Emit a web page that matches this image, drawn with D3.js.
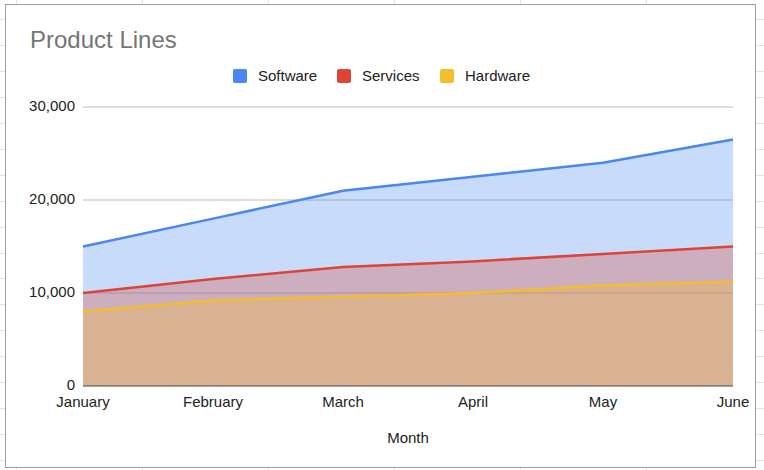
<!DOCTYPE html>
<html>
<head>
<meta charset="utf-8">
<script src="https://cdn.jsdelivr.net/npm/d3@7"></script>
<style>
  html, body { margin: 0; padding: 0; background: #fff; }
  svg { display: block; font-family: "Liberation Sans", Arial, sans-serif; }
</style>
</head>
<body>
<div id="chart"></div>
<script>
// chart data
const months = ["January", "February", "March", "April", "May", "June"];
const seriesNames = ["Software", "Services", "Hardware"];
const software = [15000, 18000, 21000, 22500, 24000, 26500];
const services = [10000, 11500, 12800, 13400, 14200, 15000];
const hardware = [8000, 9200, 9600, 10000, 10800, 11200];
const yTicks = [0, 10000, 20000, 30000];
const colors = ["#4a87f0", "#db4437", "#f3be2c"];

const width = 764, height = 470;
const svg = d3.select("#chart").append("svg")
  .attr("width", width)
  .attr("height", height);

// spreadsheet cells behind the chart
const cellLines = svg.append("g").attr("stroke", "#e2e2e2").attr("stroke-width", 1);
for (let x = 16; x < width; x += 126) {
  cellLines.append("line").attr("x1", x + 0.5).attr("x2", x + 0.5).attr("y1", 0).attr("y2", height);
}
for (let y = 19; y < height; y += 25.95) {
  cellLines.append("line").attr("x1", 0).attr("x2", width).attr("y1", Math.round(y) + 0.5).attr("y2", Math.round(y) + 0.5);
}

// chart frame
svg.append("rect")
  .attr("x", 5.5).attr("y", 4.5)
  .attr("width", 750).attr("height", 463)
  .attr("fill", "#fff")
  .attr("stroke", "#9e9e9e");

const x = d3.scalePoint().domain(months).range([83, 733]);
const y = d3.scaleLinear().domain([0, 30000]).range([386, 107]);

// title
svg.append("text")
  .attr("x", 30).attr("y", 48)
  .attr("fill", "#757575")
  .attr("font-size", 24)
  .text("Product Lines");

// legend
const legendX = [233, 337, 440];
const legend = svg.append("g");
seriesNames.forEach((name, i) => {
  legend.append("rect")
    .attr("x", legendX[i]).attr("y", 69)
    .attr("width", 14).attr("height", 14)
    .attr("rx", 2)
    .attr("fill", colors[i]);
  legend.append("text")
    .attr("x", legendX[i] + 25).attr("y", 76)
    .attr("dy", "0.35em")
    .attr("font-size", 15)
    .attr("fill", "#222")
    .text(name);
});

// gridlines
svg.append("g")
  .selectAll("line")
  .data(yTicks.filter(d => d > 0))
  .join("line")
    .attr("x1", 83).attr("x2", 733)
    .attr("y1", d => y(d)).attr("y2", d => y(d))
    .attr("stroke", "#dedede")
    .attr("stroke-width", 2);

// y tick labels
svg.append("g")
  .selectAll("text")
  .data(yTicks)
  .join("text")
    .attr("x", 75)
    .attr("y", d => y(d))
    .attr("dy", "0.25em")
    .attr("text-anchor", "end")
    .attr("font-size", 15)
    .attr("fill", "#222")
    .text(d => d3.format(",")(d));

const series = [software, services, hardware];

const area = d3.area()
  .x((d, i) => x(months[i]))
  .y0(y(0))
  .y1(d => y(d));

const line = d3.line()
  .x((d, i) => x(months[i]))
  .y(d => y(d));

series.forEach((values, i) => {
  svg.append("path")
    .datum(values)
    .attr("fill", colors[i])
    .attr("fill-opacity", 0.3)
    .attr("d", area);
  svg.append("path")
    .datum(values)
    .attr("fill", "none")
    .attr("stroke", colors[i])
    .attr("stroke-width", 2.5)
    .attr("stroke-linejoin", "round")
    .attr("d", line);
});

// baseline
svg.append("line")
  .attr("x1", 83).attr("x2", 733)
  .attr("y1", y(0)).attr("y2", y(0))
  .attr("stroke", "#444")
  .attr("stroke-width", 1);

// x labels
svg.append("g")
  .selectAll("text")
  .data(months)
  .join("text")
    .attr("x", d => x(d))
    .attr("y", 407)
    .attr("text-anchor", "middle")
    .attr("font-size", 15)
    .attr("fill", "#222")
    .text(d => d);

// axis title
svg.append("text")
  .attr("x", 408).attr("y", 443)
  .attr("text-anchor", "middle")
  .attr("font-size", 15)
  .attr("fill", "#222")
  .text("Month");
</script>
</body>
</html>
